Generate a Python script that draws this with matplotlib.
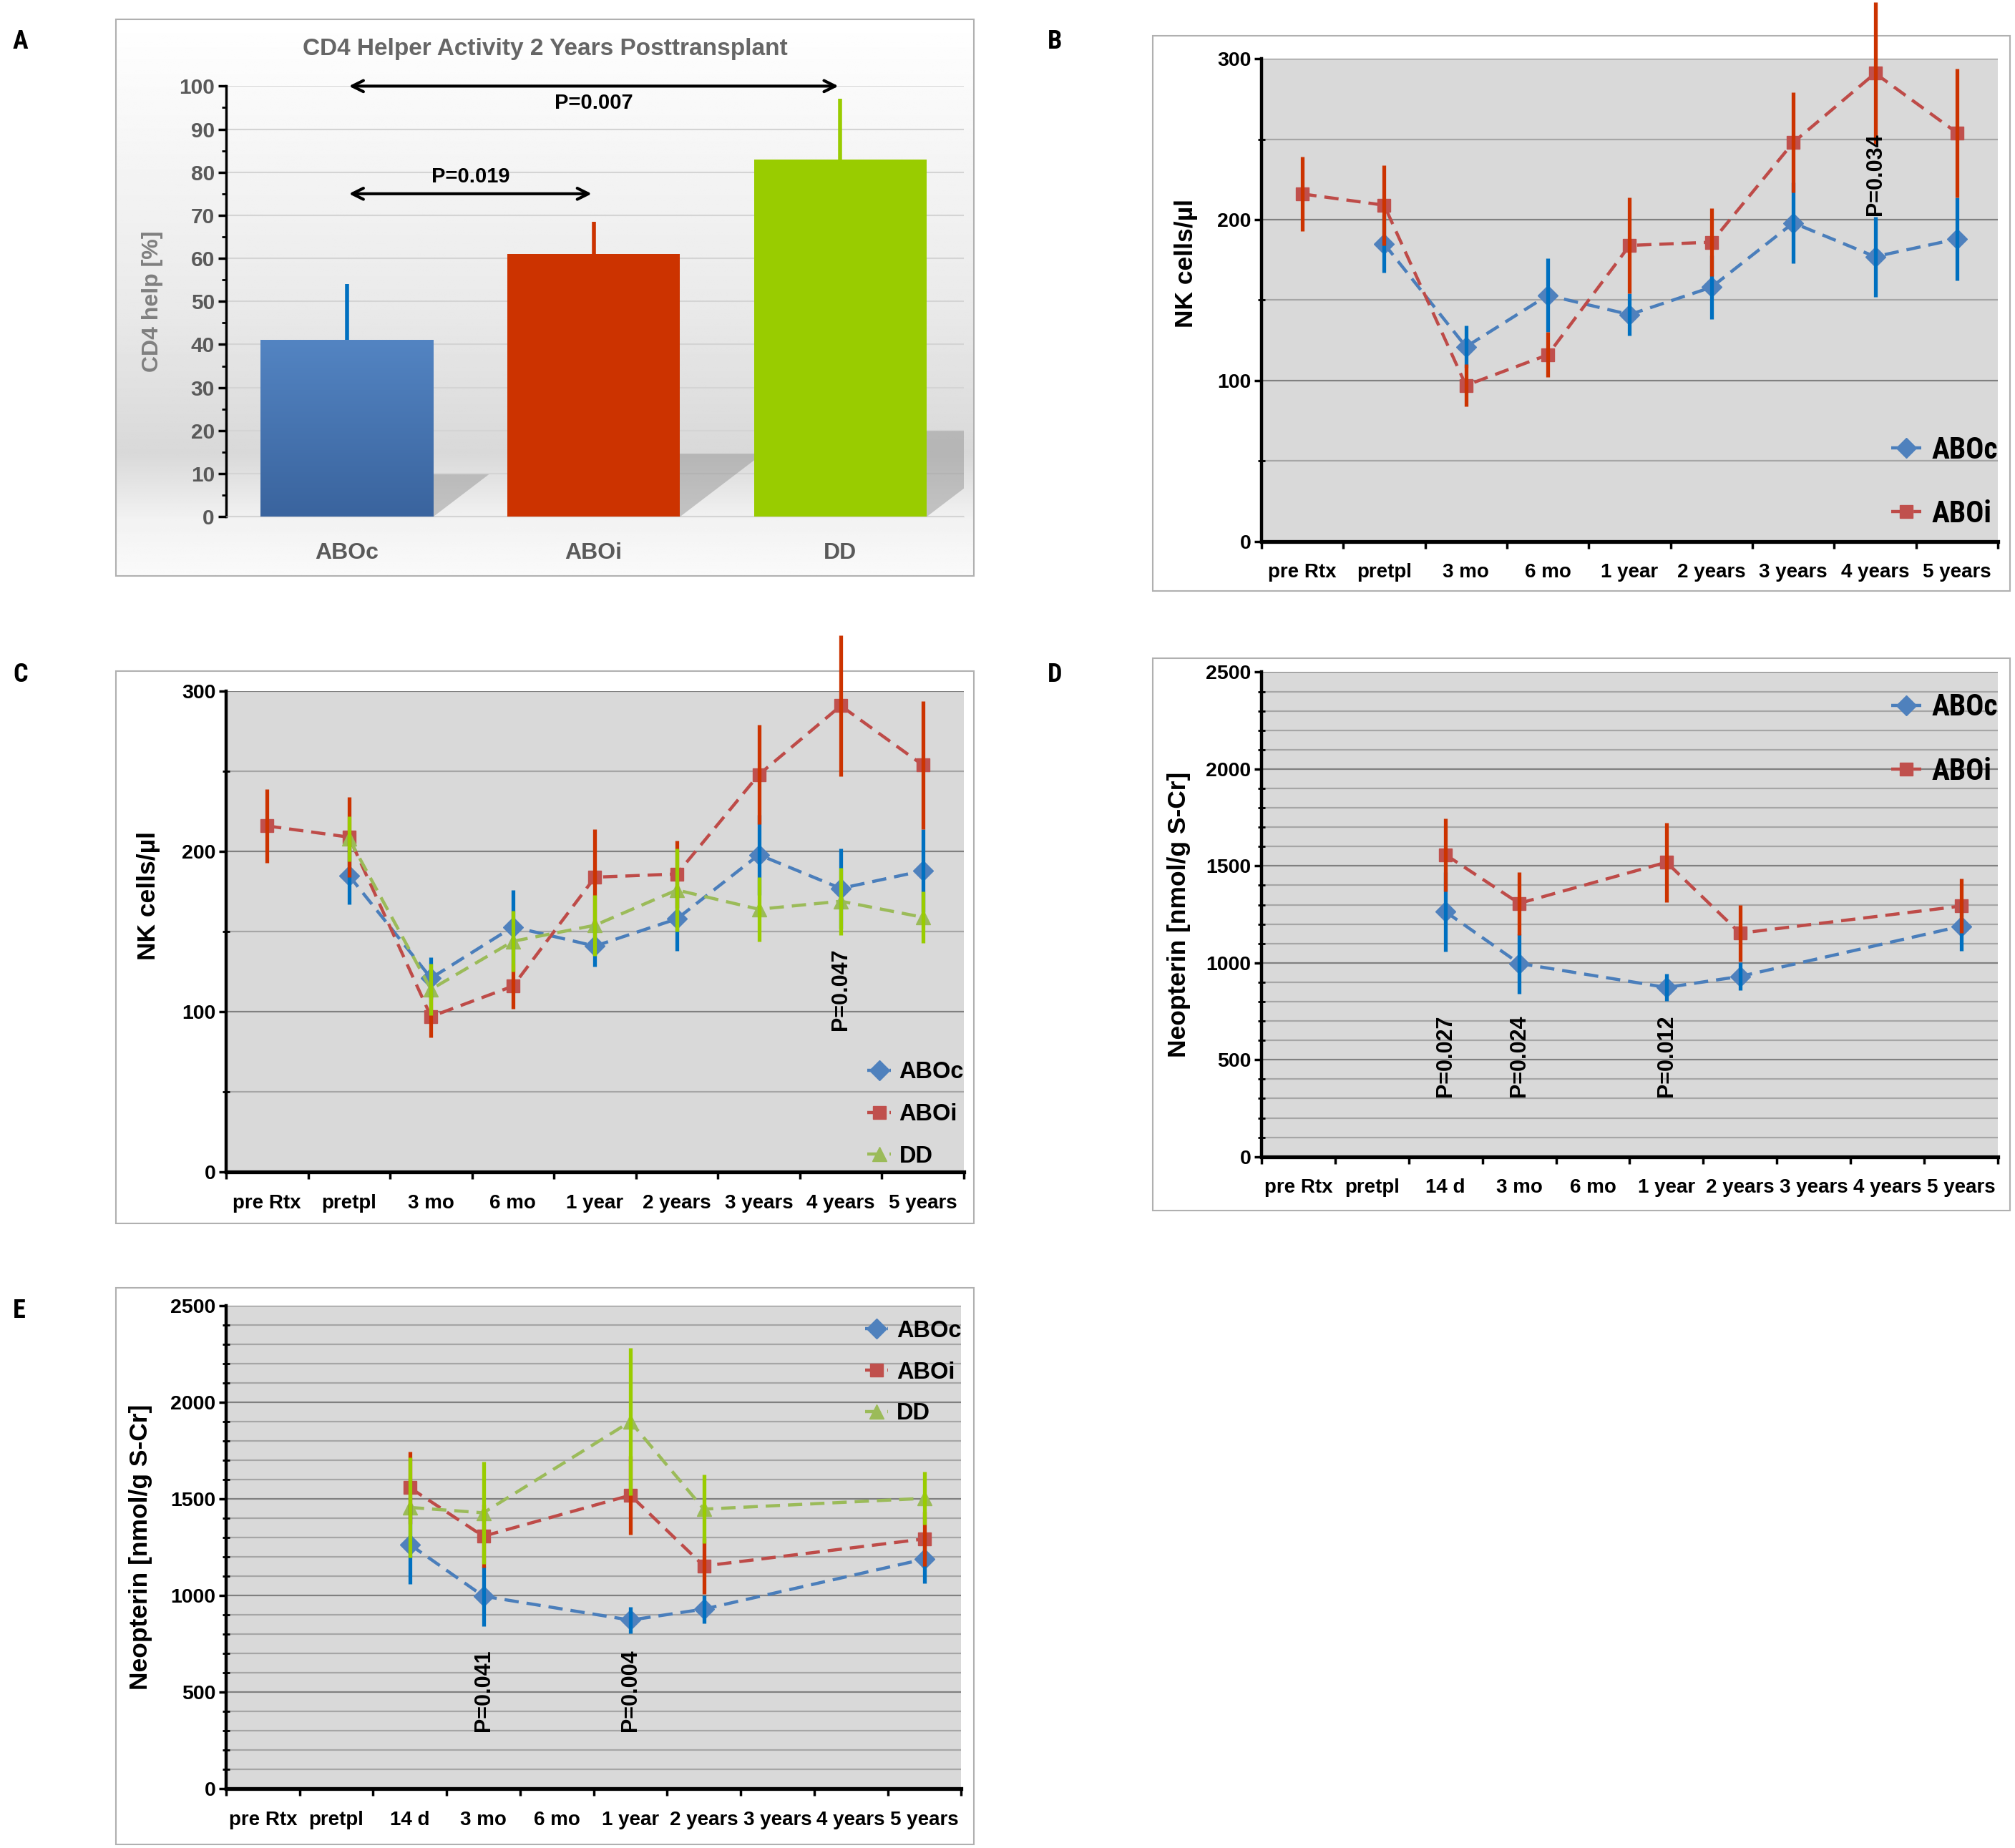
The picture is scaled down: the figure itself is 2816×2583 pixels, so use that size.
import numpy as np
import matplotlib
matplotlib.use('Agg')
import matplotlib.pyplot as plt
from matplotlib.patches import Rectangle, Polygon
from matplotlib.ticker import MultipleLocator
from matplotlib.colors import LinearSegmentedColormap

nan = np.nan

# panel A - CD4 help
groups = ['ABOc', 'ABOi', 'DD']
help_mean = [41, 61, 83]
help_err = [13, 7.5, 14]

# panels B, C - NK cells
nk_cats = ['pre Rtx', 'pretpl', '3 mo', '6 mo', '1 year', '2 years', '3 years', '4 years', '5 years']
nk_aboc = [nan, 185, 121, 153, 141, 158, 198, 177, 188]
nk_aboc_err = [nan, 18, 13, 23, 13, 20, 25, 25, 26]
nk_aboi = [216, 209, 97, 116, 184, 186, 248, 291, 254]
nk_aboi_err = [23, 25, 13, 14, 30, 21, 31, 44, 40]
nk_dd = [nan, 208, 114, 144, 154, 176, 164, 169, 159]
nk_dd_err = [nan, 14, 16, 19, 19, 26, 20, 21, 16]

# panels D, E - neopterin
neo_cats = ['pre Rtx', 'pretpl', '14 d', '3 mo', '6 mo', '1 year', '2 years', '3 years', '4 years', '5 years']
neo_aboc = [nan, nan, 1264, 997, nan, 873, 930, nan, nan, 1189]
neo_aboc_err = [nan, nan, 205, 155, nan, 70, 72, nan, nan, 126]
neo_aboi = [nan, nan, 1558, 1307, nan, 1519, 1153, nan, nan, 1293]
neo_aboi_err = [nan, nan, 188, 162, nan, 205, 145, nan, nan, 140]
neo_dd = [nan, nan, 1456, 1428, nan, 1900, 1447, nan, nan, 1503]
neo_dd_err = [nan, nan, 260, 265, nan, 380, 178, nan, nan, 137]

arial = ['Liberation Sans', 'DejaVu Sans']
narrow = ['Roboto Condensed', 'Liberation Sans Narrow', 'Liberation Sans', 'DejaVu Sans']

STY = {
    'ABOc': dict(line='#4a7ebb', mc='#4f81bd', err='#0070c0', marker='D', ms=14.5),
    'ABOi': dict(line='#be4b48', mc='#c0504d', err='#cc3300', marker='s', ms=13.5),
    'DD': dict(line='#9bbb59', mc='#9bbb59', err='#99cc00', marker='^', ms=15),
}

fig = plt.figure(figsize=(28.16, 25.83), dpi=100)

# frames around each panel
frames = {
    'A': (0.0574, 0.6885, 0.4260, 0.3011),
    'B': (0.5720, 0.6801, 0.4255, 0.3004),
    'C': (0.0574, 0.3380, 0.4260, 0.2990),
    'D': (0.5720, 0.3450, 0.4255, 0.2990),
    'E': (0.0574, 0.0021, 0.4260, 0.3011),
}
labels_pos = {'A': (0.0064, 0.9777), 'B': (0.5198, 0.9777), 'C': (0.0064, 0.6349),
              'D': (0.5198, 0.6349), 'E': (0.0064, 0.2907)}

for k, (l, b, w, h) in frames.items():
    if k == 'A':
        bg = fig.add_axes([l, b, w, h], zorder=0)
        t = np.linspace(0, 1, 300)
        g = np.interp(t, [0, 0.5, 0.78, 0.9, 1.0], [1.0, 0.92, 0.85, 0.95, 0.98])
        bg.imshow(np.tile(g[:, None], (1, 10)), cmap='gray', vmin=0, vmax=1,
                  aspect='auto', extent=(0, 1, 0, 1))
        bg.set_axis_off()
    fig.patches.append(Rectangle((l, b), w, h, transform=fig.transFigure, fill=False,
                                 edgecolor='#b0b0b0', lw=1.5, zorder=1))
    fig.text(labels_pos[k][0], labels_pos[k][1], k, fontsize=26, fontweight='bold',
             family=narrow, va='center', ha='left')

# ---------- panel A ----------
axA = fig.add_axes([0.1122, 0.7204, 0.3661, 0.2330], zorder=2)
axA.patch.set_alpha(0)
xs = np.arange(3)
bars = axA.bar(xs, help_mean, width=0.7, color=['#4a7bb7', '#cc3300', '#99cc00'], zorder=3)

# gradient on the blue bar
cm = LinearSegmentedColormap.from_list('bl', ['#3a649e', '#5384c2'])
im = axA.imshow(np.linspace(1, 0, 100)[:, None], cmap=cm, aspect='auto',
                extent=(-0.35, 0.35, 0, help_mean[0]), zorder=3.1)
im.set_clip_path(bars[0])

# perspective shadows behind bars
for xi, h in zip(xs, help_mean):
    hs = 0.24 * h
    off = 0.0055 * h
    axA.add_patch(Polygon([(xi - 0.35, 0), (xi + 0.35, 0), (xi + 0.35 + off, hs), (xi - 0.35 + off, hs)],
                          closed=True, facecolor='#8c8c8c', alpha=0.45, edgecolor='none', zorder=2))

axA.vlines(xs, help_mean, np.array(help_mean) + np.array(help_err),
           colors=['#0070c0', '#cc3300', '#99cc00'], lw=4, zorder=4)

axA.set_xlim(-0.49, 2.5)
axA.set_ylim(0, 100)
axA.yaxis.set_major_locator(MultipleLocator(10))
axA.yaxis.set_minor_locator(MultipleLocator(5))
axA.yaxis.grid(True, color='#d4d4d4', lw=1.5)
axA.set_axisbelow(True)
for s in ['top', 'right']:
    axA.spines[s].set_visible(False)
axA.spines['bottom'].set_color('#d4d4d4')
axA.spines['left'].set_linewidth(2.5)
axA.set_xticks(xs, groups)
axA.tick_params(axis='x', length=0, pad=26, labelsize=23, labelcolor='#595959')
axA.tick_params(axis='y', which='major', length=8, width=2.5, labelsize=21.5,
                labelcolor='#595959')
axA.tick_params(axis='y', which='minor', length=4, width=2)
for lab in axA.get_xticklabels() + axA.get_yticklabels():
    lab.set_family(arial)
    lab.set_fontweight('bold')
axA.set_ylabel('CD4 help [%]', fontsize=23, fontweight='bold', color='#7f7f7f', family=arial)
axA.yaxis.set_label_coords(-0.085, 0.5)

axA.annotate('', xy=(2, 100), xytext=(0, 100), annotation_clip=False,
             arrowprops=dict(arrowstyle='<->', lw=3, color='black', mutation_scale=28))
axA.annotate('', xy=(1, 75), xytext=(0, 75), annotation_clip=False,
             arrowprops=dict(arrowstyle='<->', lw=3, color='black', mutation_scale=28))
axA.text(1.0, 96, 'P=0.007', ha='center', va='center', fontsize=21, fontweight='bold',
         family=arial)
axA.text(0.5, 79, 'P=0.019', ha='center', va='center', fontsize=21, fontweight='bold',
         family=arial)
fig.text(0.2704, 0.9736, 'CD4 Helper Activity 2 Years Posttransplant', ha='center', va='center',
         fontsize=24, fontweight='bold', color='#666666', family=arial)


# ---------- line panels ----------
def line_panel(rect, cats, series, ymax, major, minor, ylabel, lab_xy, ptexts, leg):
    ax = fig.add_axes(rect, zorder=2)
    x = np.arange(len(cats))
    ax.set_facecolor('#d9d9d9')
    for v in np.arange(minor, ymax + 1, minor):
        c = '#808080' if v % major == 0 else '#a6a6a6'
        ax.axhline(v, color=c, lw=1.6, zorder=0.5)
    for name, vals, errs in series:
        st = STY[name]
        vals = np.array(vals, float)
        errs = np.array(errs, float)
        m = ~np.isnan(vals)
        ax.plot(x[m], vals[m], ls=(0, (4.5, 2.5)), color=st['line'], lw=3.2,
                marker=st['marker'], ms=st['ms'], mfc=st['mc'], mec=st['mc'],
                label=name, zorder=3)
        ax.vlines(x[m], vals[m] - errs[m], vals[m] + errs[m], color=st['err'],
                  lw=3.8, zorder=4, clip_on=False)
    ax.set_xlim(-0.5, len(cats) - 0.5)
    ax.set_ylim(0, ymax)
    ax.set_xticks(np.arange(len(cats) + 1) - 0.5)
    ax.set_xticks(x, cats, minor=True)
    ax.tick_params(axis='x', which='major', length=7, width=2.5, labelbottom=False)
    ax.tick_params(axis='x', which='minor', length=0, pad=22, labelsize=20)
    ax.yaxis.set_major_locator(MultipleLocator(major))
    ax.yaxis.set_minor_locator(MultipleLocator(minor))
    ax.tick_params(axis='y', which='major', length=7, width=2.5, labelsize=20.5)
    ax.tick_params(axis='y', which='minor', direction='inout', length=7, width=2)
    for lab in ax.get_xticklabels(minor=True) + ax.get_yticklabels():
        lab.set_family(arial)
        lab.set_fontweight('bold')
    for s in ['top', 'right']:
        ax.spines[s].set_visible(False)
    ax.spines['left'].set_linewidth(3.2)
    ax.spines['bottom'].set_linewidth(3.8)
    ax.set_ylabel(ylabel, fontsize=lab_xy[2], fontweight='bold', family=arial)
    ax.yaxis.set_label_coords(lab_xy[0], lab_xy[1])
    for xi, yi, txt in ptexts:
        ax.text(xi, yi, txt, rotation=90, ha='center', va='center', fontsize=22,
                fontweight='bold', family=arial, zorder=5)
    fam, size, yc, sp = leg
    ax.legend(loc='center right', bbox_to_anchor=(1.0, yc), frameon=False,
              prop=dict(family=fam, weight='bold', size=size), handlelength=1.0,
              handletextpad=0.35, labelspacing=sp, borderaxespad=0, borderpad=0)
    return ax


line_panel([0.6260, 0.7070, 0.3655, 0.2612], nk_cats,
           [('ABOc', nk_aboc, nk_aboc_err), ('ABOi', nk_aboi, nk_aboi_err)],
           300, 100, 50, 'NK cells/µl', (-0.086, 0.576, 25.5),
           [(7, 228, 'P=0.034')], (narrow, 30, 0.123, 1.15))

line_panel([0.1122, 0.3658, 0.3661, 0.2601], nk_cats,
           [('ABOc', nk_aboc, nk_aboc_err), ('ABOi', nk_aboi, nk_aboi_err),
            ('DD', nk_dd, nk_dd_err)],
           300, 100, 50, 'NK cells/µl', (-0.089, 0.575, 25.5),
           [(7, 114, 'P=0.047')], (arial, 23.5, 0.12, 0.85))

line_panel([0.6260, 0.3741, 0.3655, 0.2622], neo_cats,
           [('ABOc', neo_aboc, neo_aboc_err), ('ABOi', neo_aboi, neo_aboi_err)],
           2500, 500, 100, 'Neopterin [nmol/g S-Cr]', (-0.096, 0.5, 25.5),
           [(2, 520, 'P=0.027'), (3, 520, 'P=0.024'), (5, 520, 'P=0.012')],
           (narrow, 30, 0.861, 1.17))

line_panel([0.1122, 0.0320, 0.3648, 0.2615], neo_cats,
           [('ABOc', neo_aboc, neo_aboc_err), ('ABOi', neo_aboi, neo_aboi_err),
            ('DD', neo_dd, neo_dd_err)],
           2500, 500, 100, 'Neopterin [nmol/g S-Cr]', (-0.10, 0.5, 25.5),
           [(3, 510, 'P=0.041'), (5, 510, 'P=0.004')], (arial, 23.5, 0.862, 0.82))

fig.savefig('out.png', dpi=100, facecolor='white')
